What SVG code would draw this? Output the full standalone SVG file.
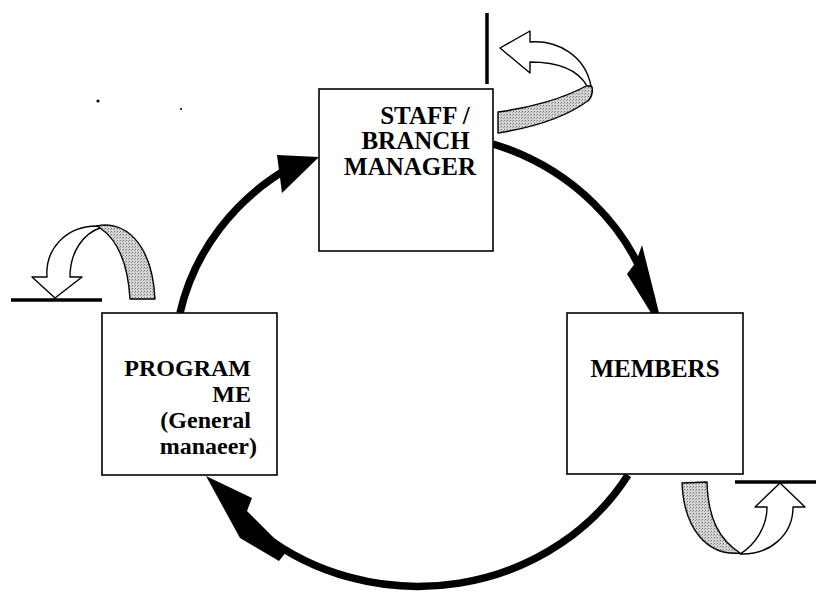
<svg xmlns="http://www.w3.org/2000/svg" width="816" height="592" viewBox="0 0 816 592">
  <defs>
    <pattern id="stipple" width="3" height="3" patternUnits="userSpaceOnUse">
      <rect width="3" height="3" fill="#d6d6d6"/>
      <rect x="0" y="0" width="1" height="1" fill="#6f6f6f"/>
      <rect x="2" y="1" width="1" height="1" fill="#9a9a9a"/>
    </pattern>
    <style>
      .box { fill: #fff; stroke: #000; stroke-width: 1.6; }
      .label { font-family: "Liberation Serif", "Times New Roman", serif; font-weight: bold; font-size: 25px; fill: #000; }
      .small { font-size: 24px; }
      .cycle { fill: none; stroke: #000; stroke-width: 7.5; }
      .head { fill: #000; stroke: none; }
      .ribbon { fill: #fff; stroke: #000; stroke-width: 1.4; stroke-linejoin: round; }
      .band { fill: url(#stipple); stroke: #000; stroke-width: 1.4; stroke-linejoin: round; }
      .bar { stroke: #000; stroke-width: 3.5; fill: none; }
    </style>
  </defs>

  <rect width="816" height="592" fill="#fff"/>

  <!-- cycle connectors: arcs of one ellipse, centre (418,360), radii 244 x 227 -->
  <g id="connectors">
    <!-- programme -> staff / branch manager -->
    <path class="cycle" d="M 180 313 A 244 227 0 0 1 292 166"/>
    <polygon class="head" points="319,157 277,155 282,193"/>
    <!-- staff / branch manager -> members -->
    <path class="cycle" d="M 493 144 A 244 227 0 0 1 652 300"/>
    <polygon class="head" points="642,245 659,313 651,313 627,274 636,262"/>
    <!-- members -> programme -->
    <path class="cycle" d="M 628 475 A 244 227 0 0 1 262 534"/>
    <polygon class="head" points="206,476 252,498 247,511 287,551 279,561 240,538"/>
  </g>

  <!-- feedback ribbon arrows -->
  <g id="feedback-top">
    <line class="bar" x1="487" y1="13" x2="487" y2="84"/>
    <path class="band" d="M 498 112 C 530 108, 565 98, 588 85 L 592 87 C 593 92, 592 96, 589 100 C 565 118, 530 128, 498 133 Z"/>
    <path class="ribbon" d="M 500 48 L 530 31 L 530 42 C 557 40, 585 55, 591 86 L 587 86 C 578 70, 558 62, 530 62 L 530 73 Z"/>
  </g>

  <g id="feedback-left">
    <line class="bar" x1="11" y1="300" x2="102" y2="300"/>
    <path class="band" d="M 97 226 C 122 220, 152 240, 155 299 L 130 299 C 128 265, 118 240, 100 228 Z"/>
    <path class="ribbon" d="M 55 298 L 32 277 L 47 277 C 45 250, 65 226, 97 226 L 100 228 C 85 233, 70 250, 70 277 L 82 277 Z"/>
  </g>

  <g id="feedback-right">
    <line class="bar" x1="735" y1="482" x2="816" y2="482"/>
    <path class="band" d="M 682 483 L 707 482 C 708 520, 720 540, 740 553 C 708 556, 684 530, 682 483 Z"/>
    <path class="ribbon" d="M 780 483 L 805 507 L 793 507 C 793 535, 770 555, 740 554 C 755 545, 767 527, 767 507 L 755 507 Z"/>
  </g>

  <!-- nodes -->
  <g id="staff-branch-manager">
    <rect class="box" x="319" y="89" width="174" height="162"/>
    <text class="label" text-anchor="end">
      <tspan x="476" y="124">STAFF /</tspan>
      <tspan x="476" y="149">BRANCH</tspan>
      <tspan x="476" y="175">MANAGER</tspan>
    </text>
  </g>

  <g id="members">
    <rect class="box" x="567" y="313" width="176" height="161"/>
    <text class="label" x="655" y="377" text-anchor="middle">MEMBERS</text>
  </g>

  <g id="programme">
    <rect class="box" x="102" y="313" width="175" height="162"/>
    <text class="label small" text-anchor="end">
      <tspan x="257" y="376">PROGRAM</tspan>
      <tspan x="257" y="402">ME</tspan>
      <tspan x="257" y="428">(General</tspan>
      <tspan x="257" y="454">manaeer)</tspan>
    </text>
  </g>

  <!-- small specks -->
  <circle cx="98" cy="101" r="1.6" fill="#000"/>
  <circle cx="181" cy="109" r="1.1" fill="#000"/>
</svg>
